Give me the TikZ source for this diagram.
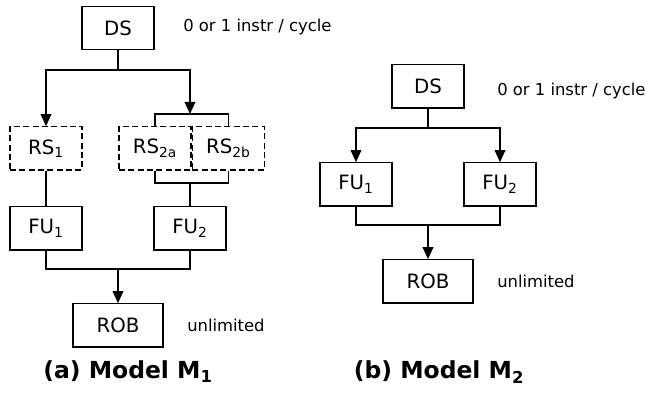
\documentclass[tikz,border=0pt]{standalone}
\usepackage{fontspec}
\setmainfont{DejaVu Sans}
\usetikzlibrary{arrows.meta,positioning}
\tikzset{
unitstyle/.style={
  rectangle,
  line width=1pt,
  inner sep=0pt,
  minimum width=54pt,
  minimum height=32.5pt,
  align=center,
  draw=black,
  font=\fontsize{14.8}{17}\selectfont,
  }
}
\tikzset{
stationstyle/.style={
  unitstyle,
  dash pattern=on 4.5pt off 2.5pt,
  }
}
\tikzset{
notestyle/.style={
  anchor=west,
  inner sep=0pt,
  font=\fontsize{12.3}{14}\selectfont,
  }
}
\tikzset{
captionstyle/.style={
  inner sep=0pt,
  font=\bfseries\fontsize{17.6}{20}\selectfont,
  }
}
\tikzset{
myline/.style={
  line width=1pt,
  }
}
\tikzset{
myarrow/.style={
  line width=1pt,
  -{Triangle[length=9pt,width=8pt]}
  }
}

\begin{document}
\begin{tikzpicture}[x=0.75pt,y=-0.75pt]
    \useasboundingbox (0,0) rectangle (646,398);

    % model 1 part
    \node[unitstyle] (ds_a) at (118,28) {DS};
    \node[notestyle] (rate_a) at (183,27) {0 or 1 instr / cycle};
    \node[stationstyle] (rs_1) at (46,148.5) {RS\textsubscript{1}};
    \node[stationstyle] (rs_2a) at (155,148.5) {RS\textsubscript{2a}};
    \node[stationstyle, right=0pt of rs_2a] (rs_2b) {RS\textsubscript{2b}};
    \node[unitstyle] (fu_1_a) at (46,228.5) {FU\textsubscript{1}};
    \node[unitstyle] (fu_2_a) at (190,228.5) {FU\textsubscript{2}};
    \node[unitstyle, minimum width=67.5pt] (rob_a) at (118,325.5) {ROB};
    \node[notestyle] (size_a) at (187,325) {unlimited};
    \node[captionstyle] (cap_a) at (128,372) {(a) Model M\textsubscript{1}};

    \coordinate (split_a) at (118,70);
    \coordinate (fork_2) at (190,114);
    \coordinate (merge_2) at (190,183);
    \coordinate (join_a) at (118,269);

    % model 1 edges
    \draw[myline] (ds_a) -- (split_a);
    \draw[myarrow] (split_a) -| (rs_1);
    \draw[myarrow] (split_a) -| (fork_2);
    \draw[myline] (rs_2a.north) |- (fork_2) -| (rs_2b.north);
    \draw[myline] (rs_2a.south) |- (merge_2) -| (rs_2b.south);
    \draw[myline] (rs_1) -- (fu_1_a);
    \draw[myline] (merge_2) -- (fu_2_a);
    \draw[myline] (fu_1_a.south) |- (join_a) -| (fu_2_a.south);
    \draw[myarrow] (join_a) -- (rob_a);

    % model 2 part
    \node[unitstyle] (ds_b) at (428,86.5) {DS};
    \node[notestyle] (rate_b) at (497,91) {0 or 1 instr / cycle};
    \node[unitstyle] (fu_1_b) at (356,184.5) {FU\textsubscript{1}};
    \node[unitstyle] (fu_2_b) at (500,184.5) {FU\textsubscript{2}};
    \node[unitstyle, minimum width=67.5pt] (rob_b) at (428,281.5) {ROB};
    \node[notestyle] (size_b) at (497,281) {unlimited};
    \node[captionstyle] (cap_b) at (439,372) {(b) Model M\textsubscript{2}};

    \coordinate (split_b) at (428,128);
    \coordinate (join_b) at (428,225);

    % model 2 edges
    \draw[myline] (ds_b) -- (split_b);
    \draw[myarrow] (split_b) -| (fu_1_b);
    \draw[myarrow] (split_b) -| (fu_2_b);
    \draw[myline] (fu_1_b.south) |- (join_b) -| (fu_2_b.south);
    \draw[myarrow] (join_b) -- (rob_b);
\end{tikzpicture}
\end{document}
